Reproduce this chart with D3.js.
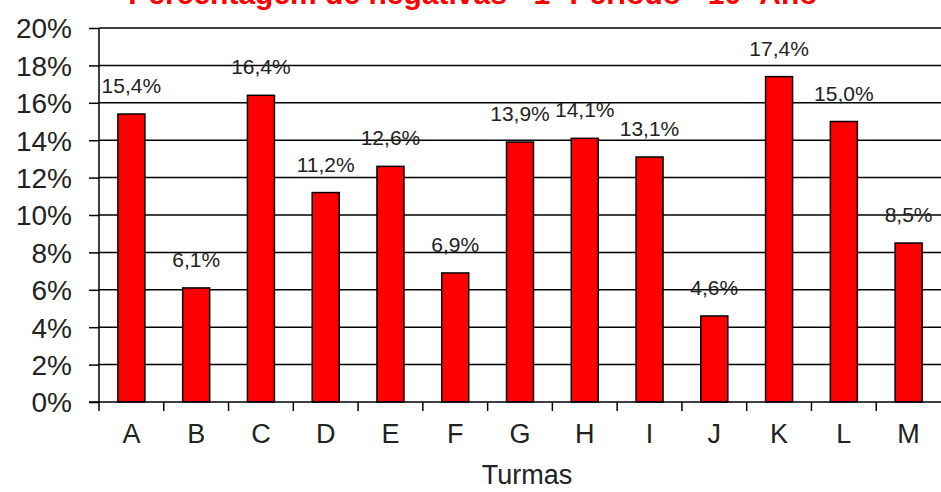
<!DOCTYPE html>
<html><head><meta charset="utf-8">
<script src="https://cdn.jsdelivr.net/npm/d3@7"></script>
<style>body{margin:0;background:#fff}svg{display:block}</style>
</head><body>
<script>
const categories = ["A","B","C","D","E","F","G","H","I","J","K","L","M"];
const values = [15.4, 6.1, 16.4, 11.2, 12.6, 6.9, 13.9, 14.1, 13.1, 4.6, 17.4, 15.0, 8.5];
const yTicks = [0,2,4,6,8,10,12,14,16,18,20];
const title = "Percentagem de negativas - 1º Período - 10º Ano";
const xTitle = "Turmas";

const W = 941, H = 492;
const m = {left: 99, right: 0, top: 28, bottom: 90};
const svg = d3.select("body").append("svg").attr("width", W).attr("height", H);
const font = "Arial, 'Liberation Sans', sans-serif";

const x = d3.scaleBand().domain(categories).range([m.left, W - m.right]).paddingInner(0).paddingOuter(0);
const y = d3.scaleLinear().domain([0, 20]).range([H - m.bottom, m.top]);

// title (clipped at top, as in the reference)
svg.append("text").attr("x", 473).attr("y", 4).attr("text-anchor", "middle")
  .attr("font-family", font).attr("font-weight", "bold").attr("font-size", 30)
  .attr("fill", "#ff0000").text(title);

// gridlines
svg.append("g").selectAll("line").data(yTicks.filter(d => d > 0)).join("line")
  .attr("x1", m.left).attr("x2", W - m.right)
  .attr("y1", d => y(d)).attr("y2", d => y(d))
  .attr("stroke", "#000").attr("stroke-width", 1.5);

// data labels
svg.append("g").selectAll("text").data(values).join("text")
  .attr("x", (d, i) => x(categories[i]) + x.bandwidth() / 2)
  .attr("y", d => y(d) - 21)
  .attr("text-anchor", "middle")
  .attr("font-family", font).attr("font-size", 21).attr("fill", "#222")
  .text(d => d.toFixed(1).replace(".", ",") + "%");

// bars
const bw = 27;
svg.append("g").selectAll("rect").data(values).join("rect")
  .attr("x", (d, i) => x(categories[i]) + x.bandwidth() / 2 - bw / 2)
  .attr("width", bw)
  .attr("y", d => y(d))
  .attr("height", d => y(0) - y(d))
  .attr("fill", "#ff0000").attr("stroke", "#000").attr("stroke-width", 1.5);

// y axis
const yAxis = d3.axisLeft(y).tickValues(yTicks).tickSize(10).tickPadding(17)
  .tickFormat(d => d + "%");
const gy = svg.append("g").attr("transform", `translate(${m.left},0)`).call(yAxis);
gy.select(".domain").attr("stroke", "#000").attr("stroke-width", 1.5).attr("d", `M0,${y(20)}V${y(0)}`);
gy.selectAll(".tick line").attr("stroke", "#000").attr("stroke-width", 1.5);
gy.selectAll(".tick text").attr("font-family", font).attr("font-size", 28).attr("fill", "#222").attr("dy", "0.35em");

// x axis
const xAxis = d3.axisBottom(x).tickSize(0).tickPadding(22);
const gx = svg.append("g").attr("transform", `translate(0,${y(0)})`).call(xAxis);
gx.select(".domain").attr("stroke", "#000").attr("stroke-width", 1.5).attr("d", `M${m.left - 10},0H${W}`);
gx.selectAll(".tick text").attr("font-family", font).attr("font-size", 27).attr("fill", "#222");
// x boundary tick marks
svg.append("g").selectAll("line").data(categories).join("line")
  .attr("x1", d => x(d)).attr("x2", d => x(d))
  .attr("y1", y(0)).attr("y2", y(0) + 9)
  .attr("stroke", "#000").attr("stroke-width", 1.5);

svg.append("text").attr("x", 527).attr("y", 484).attr("text-anchor", "middle")
  .attr("font-family", font).attr("font-size", 27).attr("fill", "#222").text(xTitle);
</script>
</body></html>
